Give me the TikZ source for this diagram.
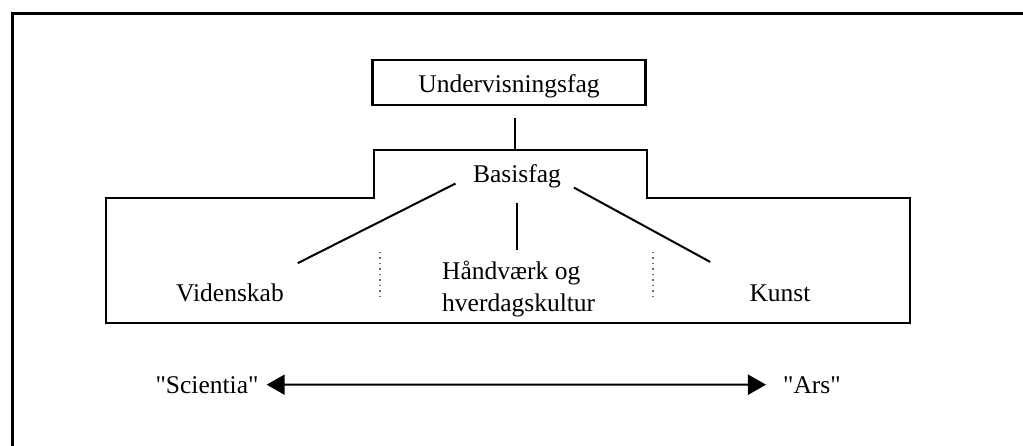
\documentclass[tikz,border=0pt]{standalone}
\usepackage{fontspec}
\setmainfont{Liberation Serif}
\usepackage{tikz}
\usetikzlibrary{arrows.meta, positioning, calc}

\begin{document}
\begin{tikzpicture}[x=1pt, y=-1pt,
  fagbox/.style={rectangle, draw, line width=2.5pt, minimum width=273pt,
               text height=23pt, text depth=2pt, inner ysep=10pt, font=\fontsize{25.5}{31}\selectfont},
  lbl/.style={inner sep=4pt, font=\fontsize{25.5}{32}\selectfont},
  link/.style={line width=2pt},
  divider/.style={gray!85!black, line width=2pt, dash pattern=on 1.5pt off 4pt},
  arr/.style={{Triangle[length=18pt,width=20pt]}-{Triangle[length=18pt,width=20pt]}, line width=2pt}
]
\useasboundingbox (0,0) rectangle (1023,446);
\draw[line width=3pt] (12,446) -- (12,14) -- (1023,14);

% stepped outline of Basisfag
\draw[line width=2.5pt] (106,198) -- (374,198) -- (374,150) -- (647,150) -- (647,198)
  -- (910,198) -- (910,323) -- (106,323) -- cycle;
\coordinate (stepmid) at (515,150);

\node[fagbox, anchor=base] (under) at (509,93) {Undervisningsfag};
\node[lbl, anchor=base] (basis) at (517,183) {Basisfag};
\node[lbl, anchor=base] (viden) at (230,302) {Videnskab};
\node[lbl, anchor=base west, align=left] (haand) at (438,312) {Håndværk og\\hverdagskultur};
\node[lbl, anchor=base] (kunst) at (780,302) {Kunst};
\node[lbl, anchor=base] (sci) at (207,393) {\textquotedbl Scientia\textquotedbl};
\node[lbl, anchor=base] (ars) at (812,393) {\textquotedbl Ars\textquotedbl};

\draw[link] ([yshift=-12pt]under.south -| stepmid) -- (stepmid);
\draw[link, shorten <=15pt, shorten >=11pt] (basis.west) -- ([yshift=12pt]viden.north east);
\draw[link, shorten <=10pt, shorten >=7pt] (basis.south) -- (basis.south |- haand.north);
\draw[link, shorten <=10pt, shorten >=40pt] ([yshift=-6pt]basis.east) -- (kunst.north west);

\draw[divider] (380,252) -- (380,297);
\draw[divider] (653,252) -- (653,297);

\draw[arr, shorten <=4pt, shorten >=13pt] (sci) -- (ars);
\end{tikzpicture}
\end{document}
